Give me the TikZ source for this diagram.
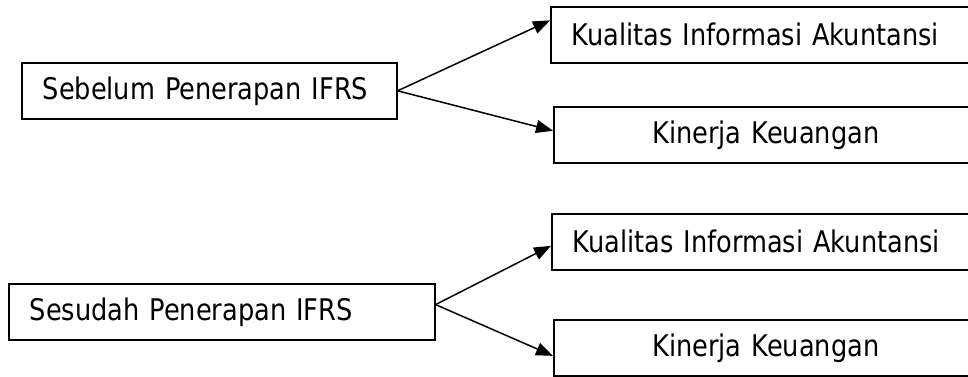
\documentclass[tikz,border=0pt]{standalone}
\usepackage{fontspec}
\setmainfont{DejaVu Sans}[FakeStretch=0.86]
\usetikzlibrary{arrows.meta,calc}
\begin{document}
\begin{tikzpicture}[x=0.5pt, y=-0.5pt, line width=0.8pt,
  font=\fontsize{14.9pt}{17pt}\selectfont,
  kotak/.style={draw, anchor=north west, minimum height=28pt, inner xsep=10.5pt, inner ysep=0pt, align=left, text width=191pt},
  panah/.style={-{Triangle[length=8.5pt,width=6.5pt]}, line width=0.75pt}]
\useasboundingbox (0,0) rectangle (968,376);

\node[kotak, text width=166.5pt] (sebelum) at (21,62) {Sebelum Penerapan IFRS};
\node[kotak] (kualitasA) at (550,6) {Kualitas Informasi Akuntansi};
\node[kotak, align=center] (kinerjaA) at (553,106) {Kinerja Keuangan};

\node[kotak, text width=192pt] (sesudah) at (8,283) {Sesudah Penerapan IFRS};
\node[kotak] (kualitasB) at (551,213) {Kualitas Informasi Akuntansi};
\node[kotak, align=center] (kinerjaB) at (553,319) {Kinerja Keuangan};

\draw[panah] (sebelum.east) -- ($(kualitasA.north west)!0.25!(kualitasA.south west)$);
\draw[panah] (sebelum.east) -- ($(kinerjaA.north west)!0.43!(kinerjaA.south west)$);
\draw[panah] ($(sesudah.north east)!0.375!(sesudah.south east)$) -- ($(kualitasB.north west)!0.57!(kualitasB.south west)$);
\draw[panah] ($(sesudah.north east)!0.375!(sesudah.south east)$) -- ($(kinerjaB.north west)!0.64!(kinerjaB.south west)$);
\end{tikzpicture}
\end{document}
